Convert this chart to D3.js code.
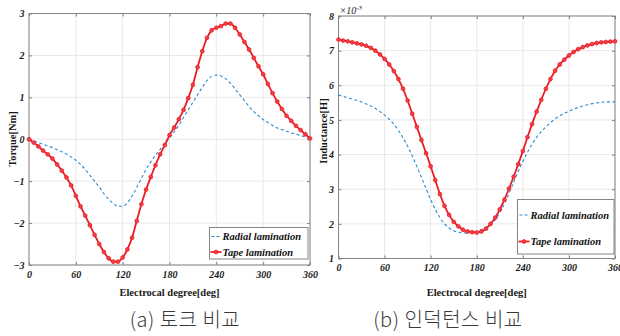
<!DOCTYPE html>
<html>
<head>
  <meta charset="utf-8">
  <script src="https://d3js.org/d3.v7.min.js"></script>
  <style>
    body { margin: 0; background: #fff; }
    svg { display: block; background: #fff; }
    .axis-title { font-family: "Liberation Serif", "Times New Roman", serif; font-weight: bold; font-size: 10.5px; fill: #1a1a1a; }
    .legend-text { font-family: "Liberation Serif", "Times New Roman", serif; font-weight: bold; font-style: italic; font-size: 10.5px; fill: #111; }
    .caption { font-family: "Noto Sans CJK KR", sans-serif; font-weight: 300; font-size: 20px; letter-spacing: 0.5px; fill: #3a3a3a; }
  </style>
</head>
<body>
<svg width="620" height="336"></svg>
<script>
// sample angles (electrical degree), every 6 deg
var angles = d3.range(0, 361, 6);
var xTicks = [0, 60, 120, 180, 240, 300, 360];
var torqueTicks = [-3, -2, -1, 0, 1, 2, 3];
var inductanceTicks = [1, 2, 3, 4, 5, 6, 7, 8];
var seriesNames = ["Radial lamination", "Tape lamination"];

// (a) torque [Nm]
var torqueRadial = [0, -0.04, -0.08, -0.12, -0.16, -0.20, -0.25, -0.30, -0.35, -0.42,
  -0.50, -0.60, -0.72, -0.86, -1.00, -1.14, -1.30, -1.43, -1.53, -1.60,
  -1.60, -1.52, -1.36, -1.15, -0.93, -0.72, -0.54, -0.38, -0.24, -0.11,
  0.03, 0.18, 0.34, 0.52, 0.70, 0.88, 1.06, 1.24, 1.40, 1.50,
  1.53, 1.51, 1.44, 1.34, 1.20, 1.06, 0.92, 0.78, 0.66, 0.56,
  0.47, 0.40, 0.33, 0.27, 0.23, 0.19, 0.15, 0.12, 0.09, 0.05, 0.02];
var torqueTape = [0, -0.08, -0.17, -0.27, -0.36, -0.46, -0.60, -0.75, -0.91, -1.10,
  -1.35, -1.60, -1.82, -2.05, -2.28, -2.50, -2.69, -2.84, -2.92, -2.92,
  -2.82, -2.63, -2.35, -1.95, -1.55, -1.20, -0.90, -0.62, -0.36, -0.14,
  0.10, 0.28, 0.48, 0.70, 0.98, 1.30, 1.72, 2.10, 2.42, 2.60,
  2.66, 2.70, 2.76, 2.76, 2.66, 2.50, 2.32, 2.14, 1.94, 1.74,
  1.55, 1.32, 1.10, 0.90, 0.72, 0.56, 0.44, 0.32, 0.22, 0.12, 0.02];

// (b) inductance [H], x10^-3
var inductanceRadial = [5.72, 5.68, 5.64, 5.60, 5.56, 5.52, 5.46, 5.40, 5.33, 5.24,
  5.14, 5.02, 4.88, 4.70, 4.48, 4.24, 3.96, 3.66, 3.34, 3.02,
  2.70, 2.42, 2.18, 2.00, 1.88, 1.80, 1.76, 1.74, 1.74, 1.75,
  1.78, 1.83, 1.90, 1.98, 2.12, 2.32, 2.58, 2.88, 3.20, 3.52,
  3.80, 4.06, 4.30, 4.50, 4.66, 4.80, 4.92, 5.03, 5.12, 5.19,
  5.25, 5.31, 5.36, 5.40, 5.44, 5.47, 5.49, 5.51, 5.52, 5.52, 5.52];
var inductanceTape = [7.32, 7.29, 7.27, 7.24, 7.21, 7.18, 7.14, 7.08, 7.00, 6.89,
  6.76, 6.60, 6.41, 6.18, 5.90, 5.56, 5.18, 4.80, 4.42, 4.04,
  3.66, 3.26, 2.86, 2.52, 2.26, 2.06, 1.93, 1.83, 1.78, 1.76,
  1.75, 1.78, 1.86, 2.00, 2.18, 2.42, 2.70, 3.02, 3.36, 3.72,
  4.10, 4.50, 4.88, 5.24, 5.58, 5.90, 6.18, 6.42, 6.60, 6.74,
  6.86, 6.96, 7.04, 7.10, 7.15, 7.19, 7.22, 7.24, 7.25, 7.26, 7.27];

var svg = d3.select("svg");
var red = "#ec1c24", blue = "#2b8bd2", frame = "#858585";

function styleTicks(sel) {
  sel.selectAll(".domain").remove();
  sel.selectAll(".tick line").attr("stroke", "#7d7d7d");
  sel.selectAll(".tick text")
    .style("font-family", "'Liberation Serif', 'Times New Roman', serif")
    .style("font-weight", "bold")
    .style("font-style", "italic")
    .style("font-size", "10px")
    .attr("fill", "#1a1a1a");
}

function drawPanel(o) {
  var x = d3.scaleLinear().domain([0, 360]).range([o.left, o.right]);
  var y = d3.scaleLinear().domain(o.yDomain).range([o.bottom, o.top]);
  var g = svg.append("g");

  // grid
  g.append("g").selectAll("line").data(xTicks).join("line")
    .attr("x1", d => x(d)).attr("x2", d => x(d))
    .attr("y1", o.top).attr("y2", o.bottom)
    .attr("stroke", "#e8e8e8");
  g.append("g").selectAll("line").data(o.yTicks).join("line")
    .attr("x1", o.left).attr("x2", o.right)
    .attr("y1", d => y(d)).attr("y2", d => y(d))
    .attr("stroke", "#e8e8e8");

  // axes (ticks inside, box on)
  g.append("g").attr("transform", "translate(0," + o.bottom + ")")
    .call(d3.axisBottom(x).tickValues(xTicks).tickSize(-3).tickPadding(o.xPad).tickFormat(d3.format("d")))
    .call(styleTicks);
  g.append("g").attr("transform", "translate(" + o.left + ",0)")
    .call(d3.axisLeft(y).tickValues(o.yTicks).tickSize(-3).tickPadding(4.5).tickFormat(d3.format("d")))
    .call(styleTicks);
  g.append("g").attr("transform", "translate(0," + o.top + ")")
    .call(d3.axisTop(x).tickValues(xTicks).tickSize(-3).tickFormat(""))
    .call(styleTicks);
  g.append("g").attr("transform", "translate(" + o.right + ",0)")
    .call(d3.axisRight(y).tickValues(o.yTicks).tickSize(-3).tickFormat(""))
    .call(styleTicks);

  g.append("rect")
    .attr("x", o.left).attr("y", o.top)
    .attr("width", o.right - o.left).attr("height", o.bottom - o.top)
    .attr("fill", "none").attr("stroke", frame).attr("stroke-width", 1);

  var line = d3.line()
    .x((d, i) => x(angles[i]))
    .y(d => y(d))
    .curve(d3.curveMonotoneX);

  g.append("path").datum(o.radial)
    .attr("d", line).attr("fill", "none")
    .attr("stroke", blue).attr("stroke-width", 1.1)
    .attr("stroke-dasharray", "3,2.5");

  g.append("path").datum(o.tape)
    .attr("d", line).attr("fill", "none")
    .attr("stroke", red).attr("stroke-width", 1.8);

  g.append("g").selectAll("circle").data(o.tape).join("circle")
    .attr("cx", (d, i) => x(angles[i])).attr("cy", d => y(d))
    .attr("r", 1.9).attr("fill", "#f04048").attr("stroke", red).attr("stroke-width", 0.8);

  // axis titles
  g.append("text").attr("class", "axis-title")
    .attr("x", (o.left + o.right) / 2).attr("y", 296)
    .attr("text-anchor", "middle").text("Electrocal degree[deg]");
  g.append("text").attr("class", "axis-title")
    .attr("transform", "translate(" + o.yTitleX + "," + o.yTitleY + ") rotate(-90)")
    .attr("text-anchor", "middle").text(o.yTitle);

  // legend
  var lg = g.append("g").attr("transform", "translate(" + o.legend[0] + "," + o.legend[1] + ")");
  lg.append("rect").attr("width", o.legend[2]).attr("height", o.legend[3])
    .attr("fill", "#fff").attr("stroke", frame);
  var rows = o.legendRows;
  lg.append("line").attr("x1", 2).attr("x2", 11).attr("y1", rows[0]).attr("y2", rows[0])
    .attr("stroke", blue).attr("stroke-width", 1.1).attr("stroke-dasharray", "3,2");
  lg.append("line").attr("x1", 1).attr("x2", 12).attr("y1", rows[1]).attr("y2", rows[1])
    .attr("stroke", red).attr("stroke-width", 1.8);
  lg.append("circle").attr("cx", 6.5).attr("cy", rows[1]).attr("r", 1.9)
    .attr("fill", "#f04048").attr("stroke", red).attr("stroke-width", 0.8);
  lg.selectAll("text.legend-text").data(seriesNames).join("text")
    .attr("class", "legend-text")
    .attr("x", 13).attr("y", (d, i) => rows[i] + 3.8)
    .text(d => d);

  return { x: x, y: y, g: g };
}

drawPanel({
  left: 29, right: 310, top: 13.5, bottom: 265,
  yDomain: [-3, 3], yTicks: torqueTicks, xPad: 6,
  radial: torqueRadial, tape: torqueTape,
  yTitle: "Torque[Nm]", yTitleX: 15.5, yTitleY: 139,
  legend: [209.5, 227.5, 98.5, 31.5], legendRows: [9, 24.5]
});

var pb = drawPanel({
  left: 338.5, right: 615, top: 16, bottom: 258.5,
  yDomain: [1, 8], yTicks: inductanceTicks, xPad: 5,
  radial: inductanceRadial, tape: inductanceTape,
  yTitle: "Inductance[H]", yTitleX: 326.5, yTitleY: 131,
  legend: [517.5, 199.5, 96.5, 54.5], legendRows: [15.5, 42]
});

// x10^-3 multiplier
var mult = pb.g.append("text")
  .attr("x", 339.5).attr("y", 14)
  .style("font-family", "'Liberation Serif', serif").style("font-style", "italic")
  .style("font-size", "10px").attr("fill", "#1a1a1a");
mult.append("tspan").text("\u00d710");
mult.append("tspan").attr("dy", -4).style("font-size", "7px").text("-3");

// captions
svg.append("text").attr("class", "caption")
  .attr("x", 185).attr("y", 327).attr("text-anchor", "middle")
  .text("(a) 토크 비교");
svg.append("text").attr("class", "caption")
  .attr("x", 448).attr("y", 327).attr("text-anchor", "middle")
  .text("(b) 인덕턴스 비교");
</script>
</body>
</html>
